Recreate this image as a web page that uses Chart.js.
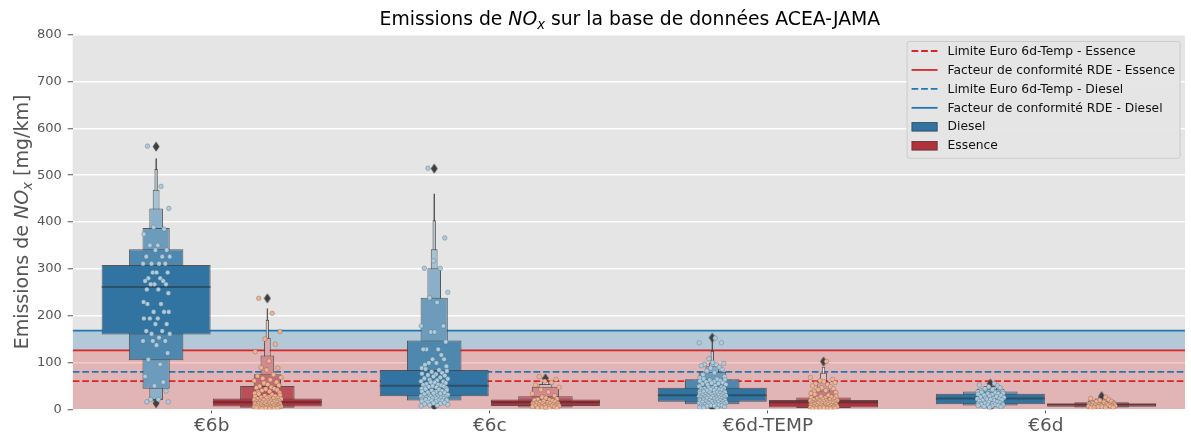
<!DOCTYPE html>
<html><head><meta charset="utf-8">
<script src="https://cdn.jsdelivr.net/npm/chart.js@4.4.1/dist/chart.umd.min.js"></script>
<style>html,body{margin:0;padding:0;background:#fff}#wrap{width:1191px;height:436px}</style>
</head><body><div id="wrap"><canvas id="c" width="1191" height="436"></canvas></div>
<script>
// ---------------- DATA ----------------
const CATEGORIES = ['€6b', '€6c', '€6d-TEMP', '€6d'];
const Y_MIN = 0, Y_MAX = 800, Y_STEP = 100;

// Reference limits (mg/km)
const LIMIT_ESSENCE = 60, LIMIT_DIESEL = 80;
const RDE_ESSENCE = 126, RDE_DIESEL = 168;

// Letter-value boxes [low, high], innermost level first, one list per category
const DIESEL_LV = [
  [[160,308],[105,342],[44,387],[20,429],[17,469],[15,513],[14,536]],
  [[28,84],[19,147],[13,238],[10,301],[9,342],[8,404],[7,461]],
  [[16,46],[11,64],[7,80],[5,92],[4,100],[3,125],[2.5,147]],
  [[11,33],[8,38],[6,44],[5,50],[4,53]]
];
const ESSENCE_LV = [
  [[6,23],[3.5,50],[2.5,75],[2,115],[1.7,153],[1.5,191],[1.3,216]],
  [[7,21],[4,28],[3,48],[2.5,54],[2,60]],
  [[4,20],[3,25],[2,40],[1.5,59],[1.2,78],[1,91]],
  [[5.6,12],[4,15],[3,19],[2.5,23],[2,26]]
];
const DIESEL_MEDIAN = [259, 48, 28, 21];
const ESSENCE_MEDIAN = [13, 13, 13, 8.5];
const DIESEL_OUTLIERS = [[561, 13], [514, 6], [153, 2], [55, 4]];
const ESSENCE_OUTLIERS = [[237], [66, 4], [102], [28]];

// Individual measurements (strip points)
const D6B_PTS = [562,476,429,389,385,374,350,350,340,340,326,326,326,311,311,311,311,292,292,292,280,280,274,274,267,267,267,256,256,248,229,225,225,208,208,208,194,194,194,182,182,167,167,161,161,153,146,146,146,137,120,106,96,70,58,50,39,21,21,16,16];
const E6B_PTS = [237,205,166,150,139,123,103,89,88,84,74,71,68,66,63,61,58,56,53,51,49,47,46,44,43,41,40,38,37,35,34,33,31,30,29,28,27,26,25,24,24,23,22,22,21,20,20,19,19,18,18,17,17,16,16,15,15,14,14,13,13,13,12,12,11,11,10,10,9,9,8,8,7,7,6,6,5,5,5,4,4,4,3,3,3,2,2,2,1,1];
const D6C_PTS = [515,366,317,301,301,250,238,228,178,178,165,165,144,128,128,128,116,107,107,99,99,95,92,88,86,84,82,80,78,76,75,73,72,70,68,66,65,63,62,60,59,58,57,56,54,53,52,51,50,49,48,47,46,45,44,43,42,41,40,39,38,37,36,35,34,33,32,31,30,29,28,27,27,26,26,25,25,24,24,23,23,22,22,21,21,20,20,19,19,18,18,17,16,15,14,13,12,11,10,9,8,7];
const E6C_PTS = [70,64,60,57,52,47,42,37,33,29,26,24,22,21,20,19,18,17,16,15,14,14,13,13,12,12,11,11,10,10,9,9,8,8,7,7,7,6,6,5,5,4,4,3,3,2];
const DTEMP_PTS = [152,142,142,108,100,98,96,95,93,90,88,85,82,78,74,70,67,65,64,63,62,61,60,59,58,57,56,55,54,53,52,50,49,47,46,45,45,44,44,43,42,42,41,40,40,39,38,38,37,36,36,35,34,34,33,32,32,31,30,30,29,29,28,28,28,27,27,26,26,25,25,24,24,23,23,22,22,21,21,20,20,19,19,18,18,17,17,16,16,15,15,14,14,13,13,12,12,11,11,10,10,9,9,8,8,7,7,6,5,4,3,2];
const ETEMP_PTS = [102,68,64,61,59,57,55,53,50,48,46,44,42,40,38,36,34,32,30,28,27,26,25,24,23,22,21,20,20,19,19,18,18,17,17,16,16,15,15,14,14,13,13,13,12,12,11,11,10,10,9,9,8,8,7,7,6,6,5,5,5,4,4,4,3,3,3,2,2,2,1,1];
const D6D_PTS = [55,52,50,48,46,44,42,40,38,37,36,35,34,33,33,32,31,30,29,28,27,26,25,24,23,22,22,21,21,20,19,18,17,16,15,14,13,12,12,11,11,10,10,9,9,8,8,7,6,5,4];
const E6D_PTS = [26,23,21,19,17,16,15,14,13,12,12,11,11,10,10,9,9,9,8,8,8,7,7,7,6,6,6,5,5,4,4,3,3];
const DIESEL_PTS = [D6B_PTS, D6C_PTS, DTEMP_PTS, D6D_PTS];
const ESSENCE_PTS = [E6B_PTS, E6C_PTS, ETEMP_PTS, E6D_PTS];

// hand-picked strip jitter pattern (fraction of jitter half-width)
const JITTER = [-0.62,0.35,0.91,-0.18,0.57,-0.88,0.12,-0.45,0.76,-0.05,0.44,-0.71,0.98,-0.33,0.21,-0.94,0.66,-0.24,0.03,0.83,-0.56,0.29,-0.79,0.51,-0.12,0.71,-0.39,0.16,-0.67,0.88,-0.9];

const LEGEND_LABELS = [
  'Limite Euro 6d-Temp - Essence',
  'Facteur de conformité RDE - Essence',
  'Limite Euro 6d-Temp - Diesel',
  'Facteur de conformité RDE - Diesel',
  'Diesel',
  'Essence'
];

// ---------------- STYLE ----------------
const BLUE = [50,116,161], RED = [176,50,60];
const LINE_RED = '#d62728', LINE_BLUE = '#1f77b4';
const EDGE = 'rgba(63,63,63,0.85)';
const HUE_DODGE = 0.2, JITTER_W = 0.05;
const DASH = [6.7, 2.9];
const FONT = '"DejaVu Sans"';

function rgb(c){ return 'rgb(' + c.map(Math.round).join(',') + ')'; }
function levelColor(base, j, n){
  const t = n > 1 ? j / (n - 1) : 0;
  return rgb(base.map(c => c + t * 0.85 * (255 - c)));
}

const diamond = document.createElement('canvas');
diamond.width = 8; diamond.height = 11;
(function(){ const g = diamond.getContext('2d'); g.fillStyle = '#3f3f3f'; g.beginPath();
  g.moveTo(4,0.5); g.lineTo(7.4,5.5); g.lineTo(4,10.5); g.lineTo(0.6,5.5); g.closePath(); g.fill(); })();

// ---------------- DATASETS ----------------
const datasets = [];
const hline = (y) => [{x:-0.5, y}, {x:3.5, y}];
const common = {xAxisID:'x2', yAxisID:'y'};
datasets.push({...common, type:'line', label:LEGEND_LABELS[3], data:hline(RDE_DIESEL), borderColor:LINE_BLUE, borderWidth:1.8, pointRadius:0, fill:{value:RDE_ESSENCE}, backgroundColor:'rgba(31,119,180,0.25)', order:40});
datasets.push({...common, type:'line', label:LEGEND_LABELS[1], data:hline(RDE_ESSENCE), borderColor:LINE_RED, borderWidth:1.8, pointRadius:0, fill:'origin', backgroundColor:'rgba(214,39,40,0.25)', order:39});
datasets.push({...common, type:'line', label:LEGEND_LABELS[2], data:hline(LIMIT_DIESEL), borderColor:LINE_BLUE, borderWidth:1.8, borderDash:DASH, pointRadius:0, fill:false, order:30});
datasets.push({...common, type:'line', label:LEGEND_LABELS[0], data:hline(LIMIT_ESSENCE), borderColor:LINE_RED, borderWidth:1.8, borderDash:DASH, pointRadius:0, fill:false, order:30});

const FUELS = [
  {name:'Diesel', side:-1, LV:DIESEL_LV, base:BLUE, median:DIESEL_MEDIAN},
  {name:'Essence', side:1, LV:ESSENCE_LV, base:RED, median:ESSENCE_MEDIAN}
];
const barCommon = {...common, type:'bar', grouped:false, categoryPercentage:1.0};

// medians (thin bars)
FUELS.forEach(f => {
  datasets.push({...barCommon, label:f.name + ' médiane', order:5,
    data: f.median.map((m, i) => ({x: i + f.side * HUE_DODGE, y: [m, m]})),
    backgroundColor:'rgba(38,38,38,0.45)', borderWidth:0, minBarLength:2, barPercentage:0.98});
});

// letter-value boxes, widest (innermost) drawn on top
const MAX_LEVELS = 7;
for (let k = 0; k < MAX_LEVELS; k++) {
  FUELS.forEach(f => {
    const idx = f.LV.map((g, i) => i).filter(i => f.LV[i][k]);
    datasets.push({...barCommon, label:f.name, order:10 + k,
      data: idx.map(i => ({x: i + f.side * HUE_DODGE, y: f.LV[i][k]})),
      backgroundColor: idx.map(i => levelColor(f.base, k, f.LV[i].length)),
      borderColor: EDGE, borderWidth: 1, borderSkipped: false,
      barPercentage: 0.98 / Math.pow(2, k)});
  });
}

function outlierData(list, side){ return list.flatMap((vals, i) => vals.map(v => ({x: i + side * HUE_DODGE, y: v}))); }
datasets.push({...common, type:'scatter', label:'outliers D', order:2, data:outlierData(DIESEL_OUTLIERS, -1), pointStyle:diamond, pointRadius:5});
datasets.push({...common, type:'scatter', label:'outliers E', order:2, data:outlierData(ESSENCE_OUTLIERS, 1), pointStyle:diamond, pointRadius:5});

function stripData(groups, side){
  return groups.flatMap((vals, i) => vals.map((v, j) => ({x: i + side * HUE_DODGE + JITTER[(j + i * 7) % JITTER.length] * JITTER_W, y: v})));
}
datasets.push({...common, type:'scatter', label:'points D', order:1, data:stripData(DIESEL_PTS, -1), pointRadius:2.3, backgroundColor:'#a8cde3', borderColor:'rgba(90,90,90,0.55)', borderWidth:0.6});
datasets.push({...common, type:'scatter', label:'points E', order:1, data:stripData(ESSENCE_PTS, 1), pointRadius:2.3, backgroundColor:'#f5b08c', borderColor:'rgba(90,90,90,0.55)', borderWidth:0.6});

// ---------------- PLUGINS ----------------
const TITLE_SEGS = [{t:'Emissions de '},{t:'NO',it:true},{t:'x',it:true,sub:true},{t:' sur la base de données ACEA-JAMA'}];
const YLABEL_SEGS = [{t:'Emissions de '},{t:'NO',it:true},{t:'x',it:true,sub:true},{t:' [mg/km]'}];
function segFont(s, size){ return (s.it ? 'italic ' : '') + (s.sub ? size * 0.7 : size) + 'px ' + FONT; }
function richWidth(ctx, segs, size){ let w = 0; segs.forEach(s => { ctx.font = segFont(s, size); w += ctx.measureText(s.t).width; }); return w; }
function drawRich(ctx, segs, x, y, size){
  let cx = x;
  segs.forEach(s => { ctx.font = segFont(s, size); ctx.fillText(s.t, cx, y + (s.sub ? size * 0.22 : 0)); cx += ctx.measureText(s.t).width; });
}

const bgPlugin = {
  id:'bg',
  beforeDraw(chart){
    const {ctx, chartArea:a} = chart;
    ctx.save(); ctx.fillStyle = '#e5e5e5'; ctx.fillRect(a.left, a.top, a.right - a.left, a.bottom - a.top); ctx.restore();
  }
};

const textPlugin = {
  id:'richText',
  afterDraw(chart){
    const {ctx, chartArea:a} = chart;
    ctx.save();
    ctx.textAlign = 'left'; ctx.textBaseline = 'alphabetic';
    const ts = 18.8;
    ctx.fillStyle = '#000';
    const tw = richWidth(ctx, TITLE_SEGS, ts);
    drawRich(ctx, TITLE_SEGS, (a.left + a.right) / 2 - tw / 2 + 1, 25, ts);
    const ys = 19;
    const yw = richWidth(ctx, YLABEL_SEGS, ys);
    ctx.translate(27.5, (a.top + a.bottom) / 2);
    ctx.rotate(-Math.PI / 2);
    ctx.fillStyle = '#555';
    drawRich(ctx, YLABEL_SEGS, -yw / 2, 0, ys);
    ctx.restore();
  }
};

const LEGEND_ITEMS = [
  {label:LEGEND_LABELS[0], kind:'line', color:LINE_RED, dash:true},
  {label:LEGEND_LABELS[1], kind:'line', color:LINE_RED},
  {label:LEGEND_LABELS[2], kind:'line', color:LINE_BLUE, dash:true},
  {label:LEGEND_LABELS[3], kind:'line', color:LINE_BLUE},
  {label:LEGEND_LABELS[4], kind:'patch', color:rgb(BLUE)},
  {label:LEGEND_LABELS[5], kind:'patch', color:rgb(RED)}
];
const legendPlugin = {
  id:'boxLegend',
  afterDraw(chart){
    const {ctx, chartArea:a} = chart;
    ctx.save();
    const fs = 12.3;
    ctx.font = fs + 'px ' + FONT;
    const maxW = Math.max(...LEGEND_ITEMS.map(it => ctx.measureText(it.label).width));
    const right = a.right - 5.4, top = a.top + 6.3;
    const w = 41 + maxW + 4.6, rowH = 18.95, h = 10 + rowH * (LEGEND_ITEMS.length - 1) + 12;
    const left = right - w;
    ctx.beginPath();
    ctx.roundRect(left + 0.5, top + 0.5, w, h, 2.5);
    ctx.fillStyle = 'rgba(229,229,229,0.95)'; ctx.fill();
    ctx.strokeStyle = '#cccccc'; ctx.lineWidth = 1; ctx.stroke();
    LEGEND_ITEMS.forEach((it, i) => {
      const cy = top + 10 + i * rowH;
      const x0 = left + 5, x1 = left + 31;
      if (it.kind === 'line') {
        ctx.beginPath(); ctx.setLineDash(it.dash ? DASH : []);
        ctx.strokeStyle = it.color; ctx.lineWidth = 1.8;
        ctx.moveTo(x0, cy); ctx.lineTo(x1, cy); ctx.stroke();
        ctx.setLineDash([]);
      } else {
        ctx.fillStyle = it.color; ctx.fillRect(x0, cy - 4.7, x1 - x0, 9.4);
        ctx.strokeStyle = 'rgba(63,63,63,0.6)'; ctx.lineWidth = 1; ctx.strokeRect(x0 + 0.5, cy - 4.2, x1 - x0 - 1, 8.4);
      }
      ctx.fillStyle = '#111'; ctx.textBaseline = 'middle'; ctx.textAlign = 'left';
      ctx.fillText(it.label, left + 41, cy + 0.5);
    });
    ctx.restore();
  }
};

// ---------------- CHART ----------------
Chart.defaults.font.family = FONT;
new Chart(document.getElementById('c'), {
  type:'bar',
  data:{ labels: CATEGORIES, datasets },
  plugins:[bgPlugin, textPlugin, legendPlugin],
  options:{
    responsive:false, animation:false, devicePixelRatio:1, events:[],
    layout:{ padding:{ top:34.7, left:0, right:-1.7, bottom:0 } },
    plugins:{ legend:{display:false}, title:{display:false}, tooltip:{enabled:false} },
    scales:{
      x:{ type:'category', labels:CATEGORIES, offset:true,
          grid:{ display:true, drawOnChartArea:false, drawTicks:true, offset:false, tickLength:4, tickColor:'#555', tickWidth:1 },
          border:{ display:false },
          ticks:{ font:{ size:18.5 }, color:'#555', padding:2 },
          afterFit(s){ s.height = 26.7; } },
      x2:{ type:'linear', min:-0.5, max:3.5, offset:false, display:false, ticks:{ stepSize:1 }, grid:{ offset:false } },
      y:{ type:'linear', min:Y_MIN, max:Y_MAX, stacked:false,
          grid:{ color:'#ffffff', lineWidth:1.5, tickColor:'#555', tickLength:5, tickWidth:1 },
          border:{ display:false },
          ticks:{ stepSize:Y_STEP, font:{ size:13 }, color:'#555', padding:6 },
          afterFit(s){ s.width = 72.7; } }
    }
  }
});
</script></body></html>
